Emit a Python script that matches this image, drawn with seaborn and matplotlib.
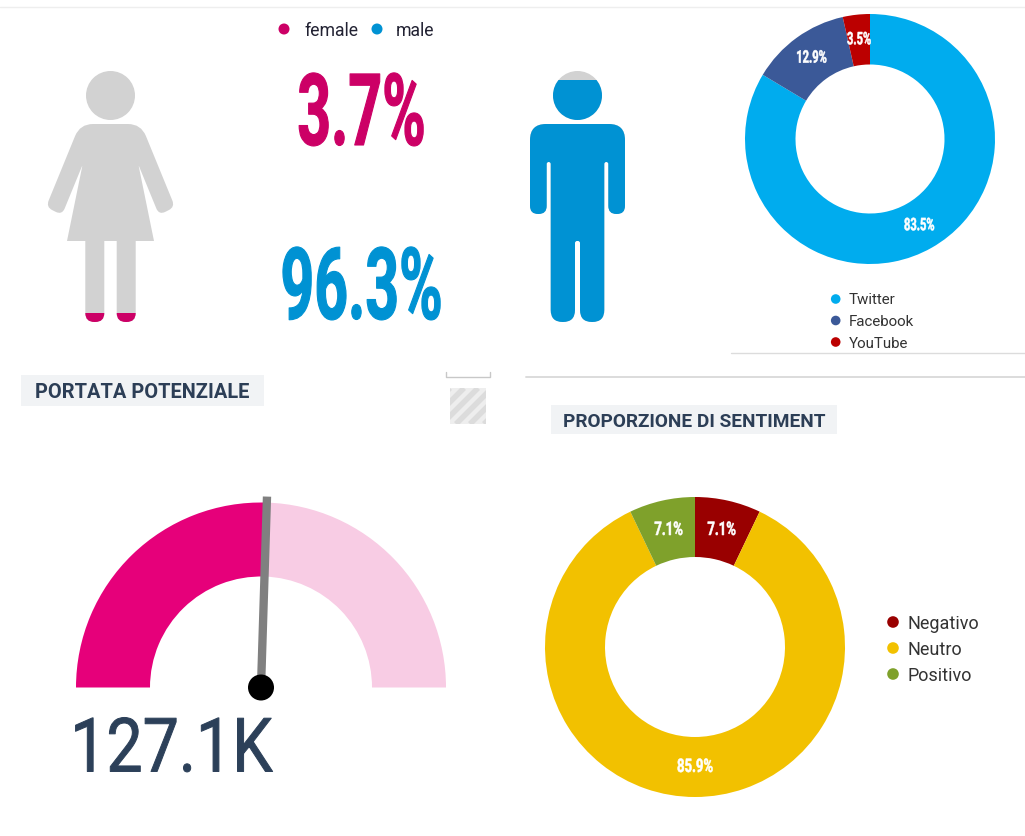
import matplotlib
matplotlib.use("Agg")
import matplotlib.pyplot as plt
import seaborn as sns
from matplotlib.path import Path
from matplotlib.patches import PathPatch, Rectangle, Circle
from matplotlib.patheffects import AbstractPathEffect
from matplotlib.transforms import Affine2D
import numpy as np

# ---- data ----
gender_labels = ["female", "male"]
gender_values = [3.7, 96.3]
gender_colors = ["#cc0066", "#0092d3"]
network_labels = ["Twitter", "Facebook", "YouTube"]
network_values = [83.5, 12.9, 3.5]
network_colors = ["#00acee", "#3b5998", "#bb0000"]
sentiment_labels = ["Negativo", "Neutro", "Positivo"]
sentiment_values = [7.1, 85.9, 7.1]
sentiment_colors = ["#990000", "#f2c100", "#7fa12b"]
gauge_share = 51.0
gauge_text = "127.1K"
gauge_colors = ["#e6007a", "#f8cce4"]
title_left = "PORTATA POTENZIALE"
title_right = "PROPORZIONE DI SENTIMENT"

W, H = 1025, 836
sns.set_theme(style="white")
plt.rcParams["font.family"] = ["Roboto", "DejaVu Sans"]
INK = "#2c3e56"
GREY = "#d2d2d2"

fig = plt.figure(figsize=(W / 100, H / 100), dpi=100, facecolor="white")
bg = fig.add_axes([0, 0, 1, 1])
bg.set_xlim(0, W)
bg.set_ylim(H, 0)
bg.axis("off")


class Squeeze(AbstractPathEffect):
    """Narrow a text horizontally around pixel column x0, optionally thickening it."""

    def __init__(self, x0, sx, stroke=0.0):
        super().__init__()
        self.x0, self.sx, self.stroke = x0, sx, stroke

    def draw_path(self, renderer, gc, tpath, affine, rgbFace=None):
        a = affine + Affine2D().translate(-self.x0, 0).scale(self.sx, 1).translate(self.x0, 0)
        if self.stroke and rgbFace is not None:
            g = renderer.new_gc()
            g.copy_properties(gc)
            g.set_linewidth(self.stroke)
            g.set_foreground(rgbFace)
            renderer.draw_path(g, tpath, a, rgbFace)
            g.restore()
        else:
            renderer.draw_path(gc, tpath, a, rgbFace)


def rounded(pts):
    """Closed path through (x, y, r) corners, r being the corner rounding."""
    verts, codes = [], []
    n = len(pts)
    for i, (x, y, r) in enumerate(pts):
        p = np.array([x, y], float)
        a = np.array(pts[i - 1][:2], float)
        b = np.array(pts[(i + 1) % n][:2], float)
        ua = (a - p) / np.linalg.norm(a - p)
        ub = (b - p) / np.linalg.norm(b - p)
        p0, p1 = p + ua * r, p + ub * r
        verts.append(p0)
        codes.append(Path.MOVETO if i == 0 else Path.LINETO)
        if r > 0:
            verts += [p, p1]
            codes += [Path.CURVE3, Path.CURVE3]
    verts.append(verts[0])
    codes.append(Path.CLOSEPOLY)
    return Path(np.array(verts), codes)


def person(half, axis, head_y, head_r):
    mirrored = [(2 * axis - x, y, r) for x, y, r in reversed(half)]
    body = rounded(half + mirrored)
    head = Path.circle((axis, head_y), head_r)
    return Path.make_compound_path(body, head)


TOP, BOTTOM = 71.0, 322.0
female_half = [(80, 124, 13), (46, 207, 7), (62, 215, 7), (82.5, 165, 2), (67, 241, 0),
               (85.3, 241, 0), (85.3, 322, 9), (104.3, 322, 9), (104.3, 241, 0)]
male_half = [(530, 124, 16), (530, 214, 8), (546.7, 214, 8), (546.7, 162, 2), (550.7, 162, 2),
             (550.7, 322, 12), (575, 322, 12), (575, 241, 2)]
female_path = person(female_half, 110.5, 95.5, 24.5)
male_path = person(male_half, 577.5, 95.5, 24.5)
span = BOTTOM - TOP

# female: grey figure filled from the feet up by her share
fp = PathPatch(female_path, fc=GREY, ec="none")
bg.add_patch(fp)
fh = span * gender_values[0] / 100
r = Rectangle((0, BOTTOM - fh), 300, fh, fc=gender_colors[0], ec="none")
bg.add_patch(r)
r.set_clip_path(fp)
# male: grey figure filled from the feet up by his share
mp = PathPatch(male_path, fc=GREY, ec="none")
bg.add_patch(mp)
mh = span * gender_values[1] / 100
r = Rectangle((500, BOTTOM - mh), 200, mh, fc=gender_colors[1], ec="none")
bg.add_patch(r)
r.set_clip_path(mp)

# gender legend
for x_dot, x_txt, lab, col in zip([284, 377], [304, 395.5], gender_labels, gender_colors):
    bg.add_patch(Circle((x_dot, 29), 5.5, fc=col, ec="none"))
    bg.text(x_txt, 28.5, lab, fontsize=12.7, color="#222233", va="center_baseline", ha="left")

# large percentages
for (x, y, v, col) in [(361.5, 145, gender_values[0], gender_colors[0]),
                       (361.5, 319, gender_values[1], gender_colors[1])]:
    t = bg.text(x, y, f"{v}%", fontsize=72, fontweight="bold", color=col,
                ha="center", va="baseline")
    t.set_path_effects([Squeeze(x, 0.59, 0.8)])

# rules
bg.plot([0, W], [7, 7], color="#eeeeee", lw=1)
bg.plot([731, W], [353, 353], color="#dcdcdc", lw=1)
bg.plot([526, W], [377, 377], color="#dcdcdc", lw=1.4)
bg.plot([446, 446, 490, 490], [372, 377, 377, 372], color="#c8c8c8", lw=1)

# hatched placeholder
box = Rectangle((450, 388), 36, 36, fc="#eeeeee", ec="none")
bg.add_patch(box)
for off in np.arange(-36, 44, 14):
    ln, = bg.plot([450 + off, 450 + off + 36], [424, 388], color="#dcdcdc", lw=4, solid_capstyle="butt")
    ln.set_clip_path(box)

# section titles
for (x0, y0, x1, y1, tx, lab, fs) in [(21, 375, 264, 406, 35, title_left, 14.4),
                                      (551, 405, 837, 434, 563, title_right, 13.7)]:
    bg.add_patch(Rectangle((x0, y0), x1 - x0, y1 - y0, fc="#f1f3f5", ec="none"))
    bg.text(tx, (y0 + y1) / 2 + 0.5, lab, fontsize=fs, fontweight="bold", color=INK,
            ha="left", va="center_baseline")


def donut(cx, cy, R, inner, vals, cols, fs, sx):
    ax = fig.add_axes([(cx - R) / W, 1 - (cy + R) / H, 2 * R / W, 2 * R / H])
    it = iter(vals)
    _, _, autos = ax.pie(vals, colors=cols, startangle=90, counterclock=False, radius=1,
                         wedgeprops=dict(width=1 - inner / R, linewidth=0),
                         autopct=lambda p: f"{next(it)}%",
                         pctdistance=(R + inner) / 2 / R,
                         textprops=dict(color="white", fontsize=fs, fontweight="bold"))
    ax.set_xlim(-1, 1)
    ax.set_ylim(-1, 1)
    for t in autos:
        xd = ax.transData.transform(t.get_position())[0]
        t.set_path_effects([Squeeze(xd, sx, 0.4)])


donut(870, 139, 125, 74.5, network_values, network_colors, 12.5, 0.64)
donut(695, 647, 150, 90, sentiment_values, sentiment_colors, 13.5, 0.70)

# donut legends
for i, (lab, col) in enumerate(zip(network_labels, network_colors)):
    y = 299 + i * 21.5
    bg.add_patch(Circle((835.7, y), 4.8, fc=col, ec="none"))
    bg.text(849, y, lab, fontsize=10.9, color="#333333", va="center_baseline")
for i, (lab, col) in enumerate(zip(sentiment_labels, sentiment_colors)):
    y = 622 + i * 26
    bg.add_patch(Circle((893, y), 5.8, fc=col, ec="none"))
    bg.text(907.3, y, lab, fontsize=13, color="#333333", va="center_baseline")

# gauge
CX, CY, GR, GI = 261, 687.5, 185, 111
gax = fig.add_axes([(CX - GR) / W, 1 - (CY + GR) / H, 2 * GR / W, 2 * GR / H])
wedges, _ = gax.pie([gauge_share, 100 - gauge_share, 100], colors=gauge_colors + ["none"],
                    startangle=180, counterclock=False, radius=1,
                    wedgeprops=dict(width=1 - GI / GR, linewidth=0))
gax.set_xlim(-1, 1)
gax.set_ylim(-1, 1)
ang = np.pi * (1 - gauge_share / 100)
L = 191
bg.set_zorder(0)
gax.set_zorder(1)
top = fig.add_axes([0, 0, 1, 1], zorder=2)
top.set_xlim(0, W)
top.set_ylim(H, 0)
top.axis("off")
top.plot([CX, CX + L * np.cos(ang)], [CY, CY - L * np.sin(ang)], color="#808080", lw=6,
         solid_capstyle="butt", zorder=2)
top.add_patch(Circle((CX, CY), 13, fc="black", ec="none", zorder=3))
t = top.text(171.5, 771.5, gauge_text, fontsize=54, color="#2c4059", ha="center", va="baseline")
t.set_path_effects([Squeeze(171.5, 0.86, 0.7)])

fig.savefig("out.png", dpi=100, facecolor="white")
